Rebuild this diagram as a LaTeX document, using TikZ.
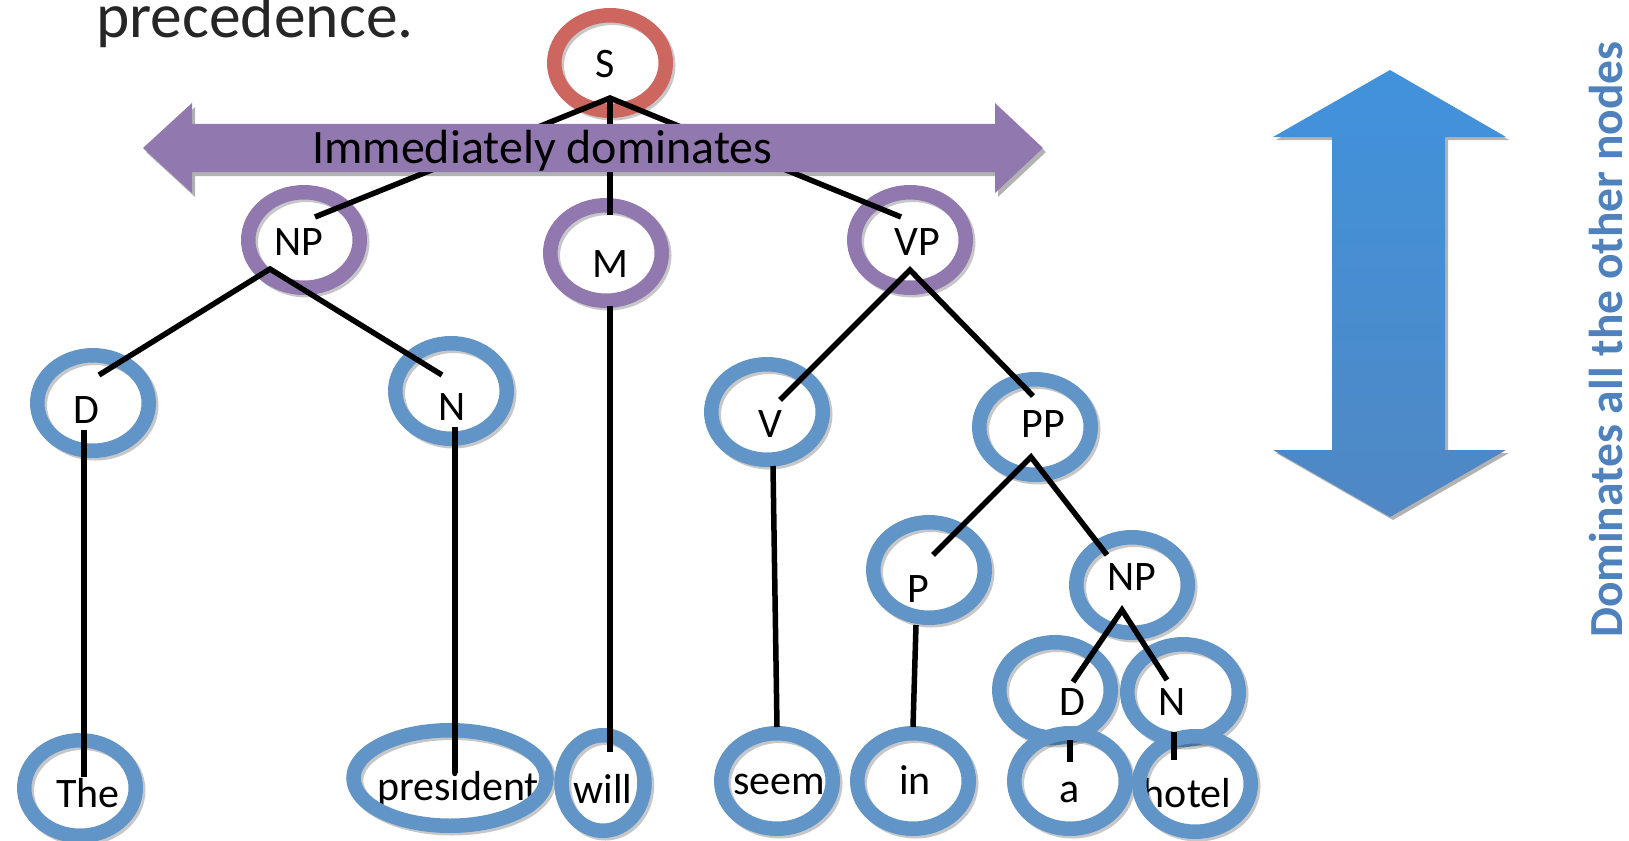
\documentclass[tikz,border=0pt]{standalone}
\usepackage{fontspec}
\setmainfont{Carlito}
\usetikzlibrary{shapes.geometric}
\definecolor{ringred}{RGB}{204,102,94}
\definecolor{ringpurple}{RGB}{145,121,176}
\definecolor{ringblue}{RGB}{97,149,200}
\definecolor{txtblue}{RGB}{79,129,189}
\definecolor{arrtop}{RGB}{65,146,220}
\definecolor{arrbot}{RGB}{79,136,196}
\begin{document}
\begin{tikzpicture}[x=1pt,y=-1pt,
  ring/.style={ellipse, draw=#1, line width=14.5pt, minimum width=111.5pt, minimum height=95.5pt,
    inner sep=0pt, outer sep=0pt,
    preaction={draw=black, draw opacity=0.22, transform canvas={xshift=2.5pt,yshift=-2.5pt}}},
  lbl/.style={anchor=base, inner sep=0pt, font=\fontsize{42}{50}\selectfont},
  edge/.style={line width=5.5pt, draw=black, line join=miter},
  shadowfill/.style={fill=black, fill opacity=0.3}]
\useasboundingbox (0,0) rectangle (1629,840);

% title fragment
\node[anchor=base west, inner sep=0pt, font=\fontsize{63.5}{72}\selectfont, text=black!85] (prec) at (96,38) {precedence.};

% blue double arrow
\fill[shadowfill, shift={(3,3)}] (1390,70) -- (1506,137) -- (1445,137) -- (1445,450) -- (1506,450) -- (1390,517) -- (1273,450) -- (1332,450) -- (1332,137) -- (1273,137) -- cycle;
\path[top color=arrtop, bottom color=arrbot] (1390,70) -- (1506,137) -- (1445,137) -- (1445,450) -- (1506,450) -- (1390,517) -- (1273,450) -- (1332,450) -- (1332,137) -- (1273,137) -- cycle;
\node[rotate=90, anchor=base west, inner sep=0pt, font=\bfseries\fontsize{47.5}{56}\selectfont, text=txtblue] (dom) at (1622,638) {Dominates all the other nodes};

% labels
\node[lbl] (tS) at (605,78) {S};
\node[lbl] (tNP1) at (299,255) {NP};
\node[lbl] (tM) at (610,277) {M};
\node[lbl] (tVP) at (917,255) {VP};
\node[lbl] (tD1) at (86,423) {D};
\node[lbl] (tN1) at (452,420) {N};
\node[lbl] (tV) at (770,437) {V};
\node[lbl] (tPP) at (1043,437) {PP};
\node[lbl] (tP) at (918,602) {P};
\node[lbl] (tNP2) at (1132,590) {NP};
\node[lbl] (tD2) at (1072,715) {D};
\node[lbl] (tN2) at (1172,715) {N};
\node[lbl] (tThe) at (88,807) {The};
\node[lbl] (tpres) at (458,800) {president};
\node[lbl] (twill) at (603,803) {will};
\node[lbl] (tseem) at (779,794) {seem};
\node[lbl] (tin) at (915,794) {in};
\node[lbl] (ta) at (1070,802) {a};
\node[lbl] (thotel) at (1187,807) {hotel};

% rings
\node[ring=ringred] (S) at (610,63) {};
\node[ring=ringpurple] (NP1) at (304,240) {};
\node[ring=ringpurple] (M) at (606,253) {};
\node[ring=ringpurple] (VP) at (910,240) {};
\node[ring=ringblue] (D1) at (93,403) {};
\node[ring=ringblue] (N1) at (451,391) {};
\node[ring=ringblue] (V) at (767,412) {};
\node[ring=ringblue] (PP) at (1035,427) {};
\node[ring=ringblue] (P) at (929,570) {};
\node[ring=ringblue] (NP2) at (1132,585) {};
\node[ring=ringblue] (D2) at (1055,690) {};
\node[ring=ringblue] (N2) at (1183,692) {};
\node[ring=ringblue] (The) at (80,788) {};
\node[ring=ringblue, minimum width=193pt] (pres) at (450,778) {};
\node[ring=ringblue, minimum width=83pt] (will) at (603,783) {};
\node[ring=ringblue] (seem) at (777,781) {};
\node[ring=ringblue] (in) at (913,781) {};
\node[ring=ringblue] (a) at (1070,781) {};
\node[ring=ringblue] (hotel) at (1195,784) {};

% edge end points
\coordinate (S-a) at (610,98);
\coordinate (NP1-t) at (315,217);
\coordinate (M-t) at (610,215);
\coordinate (VP-t) at (901,217);
\coordinate (NP1-a) at (270,269);
\coordinate (D1-t) at (99,375);
\coordinate (N1-t) at (442,375);
\coordinate (D1-b) at (84,430);
\coordinate (The-t) at (84,777);
\coordinate (N1-b) at (455,427);
\coordinate (pres-t) at (455,773);
\coordinate (M-b) at (610,306);
\coordinate (will-t) at (610,752);
\coordinate (VP-a) at (910,270);
\coordinate (V-t) at (780,400);
\coordinate (PP-t) at (1033,396);
\coordinate (V-b) at (773,466);
\coordinate (seem-t) at (777,727);
\coordinate (PP-a) at (1031,457);
\coordinate (P-t) at (933,555);
\coordinate (NP2-t) at (1107,555);
\coordinate (P-b) at (916,625);
\coordinate (in-t) at (913,727);
\coordinate (NP2-a) at (1122,610);
\coordinate (D2-t) at (1073,682);
\coordinate (N2-t) at (1167,680);
\coordinate (D2-b) at (1070,740);
\coordinate (a-t) at (1070,762);
\coordinate (N2-b) at (1174,732);
\coordinate (hotel-t) at (1174,760);

% edges
\draw[edge] (NP1-t) -- (S-a) -- (VP-t);
\draw[edge] (S-a) -- (M-t);
\draw[edge] (D1-t) -- (NP1-a) -- (N1-t);
\draw[edge] (D1-b) -- (The-t);
\draw[edge] (N1-b) -- (pres-t);
\draw[edge] (M-b) -- (will-t);
\draw[edge] (V-t) -- (VP-a) -- (PP-t);
\draw[edge] (V-b) -- (seem-t);
\draw[edge] (P-t) -- (PP-a) -- (NP2-t);
\draw[edge] (P-b) -- (in-t);
\draw[edge] (D2-t) -- (NP2-a) -- (N2-t);
\draw[edge] (D2-b) -- (a-t);
\draw[edge] (N2-b) -- (hotel-t);

% purple double arrow
\fill[shadowfill, shift={(3,4)}] (143,148) -- (192,103) -- (192,124) -- (995,124) -- (995,103) -- (1043,148) -- (995,193) -- (995,172) -- (192,172) -- (192,193) -- cycle;
\fill[ringpurple] (143,148) -- (192,103) -- (192,124) -- (995,124) -- (995,103) -- (1043,148) -- (995,193) -- (995,172) -- (192,172) -- (192,193) -- cycle;
\node[anchor=base west, inner sep=0pt, font=\fontsize{48}{56}\selectfont] (imm) at (312,163) {Immediately dominates};
\end{tikzpicture}
\end{document}
